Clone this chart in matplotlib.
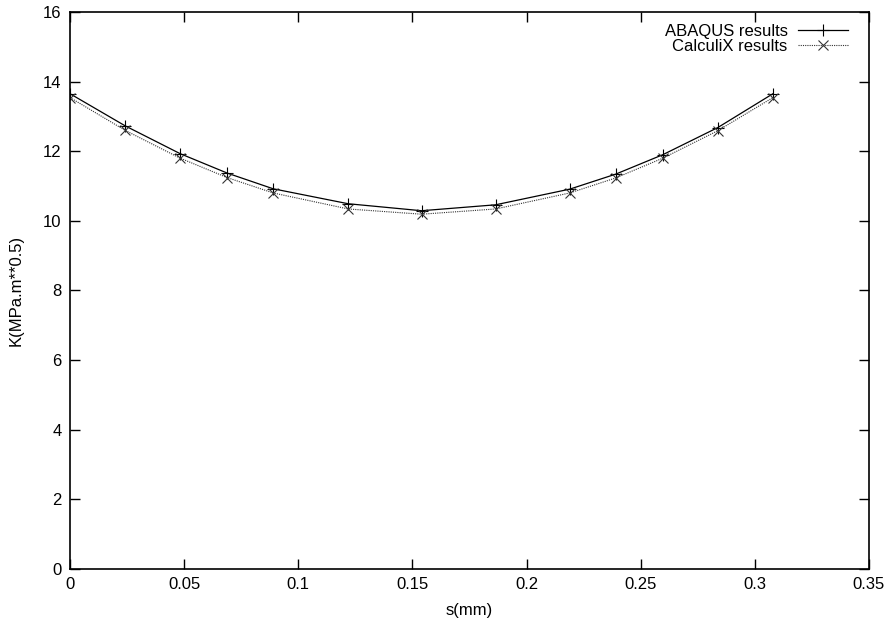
import matplotlib
matplotlib.use("Agg")
from matplotlib import pyplot as plt

# crack front position (mm)
s = [0.0, 0.0241, 0.0482, 0.0689, 0.089, 0.1219, 0.154,
     0.1864, 0.2189, 0.239, 0.2597, 0.2838, 0.3079]
k_abaqus = [13.65, 12.73, 11.93, 11.37, 10.92, 10.49, 10.29,
            10.46, 10.91, 11.34, 11.90, 12.68, 13.65]
k_calculix = [13.54, 12.60, 11.80, 11.24, 10.80, 10.34, 10.19,
              10.34, 10.80, 11.23, 11.80, 12.59, 13.54]

plt.rcParams['font.family'] = ['Liberation Sans', 'DejaVu Sans']

fig = plt.figure(figsize=(8.9, 6.28), dpi=100)
ax = fig.add_axes([0.0787, 0.094, 0.8977, 0.887])

ax.plot(s, k_abaqus, color="black", linewidth=0.9, marker='+',
        markersize=9, markeredgewidth=0.8, label="ABAQUS results")
ax.plot(s, k_calculix, color="#333333", linewidth=0.8, linestyle=(0, (1, 1)),
        marker='x', markersize=7, markeredgewidth=0.8, markeredgecolor="#333333",
        label="CalculiX results")

ax.set_xlim(0, 0.35)
ax.set_ylim(0, 16)
ax.set_xticks([0, 0.05, 0.1, 0.15, 0.2, 0.25, 0.3, 0.35])
ax.set_xticklabels(["0", "0.05", "0.1", "0.15", "0.2", "0.25", "0.3", "0.35"])
ax.set_yticks(range(0, 17, 2))
ax.tick_params(direction="in", top=True, right=True, length=7, width=1,
               labelsize=12, pad=6)
for sp in ax.spines.values():
    sp.set_linewidth(1.2)

ax.set_xlabel("s(mm)", fontsize=12, labelpad=8)
ax.set_ylabel("K(MPa.m**0.5)", fontsize=12, labelpad=14)

ax.legend(loc="upper right", frameon=False, markerfirst=False, fontsize=12,
          handlelength=3.0, handletextpad=0.6, labelspacing=0.0,
          borderaxespad=0.3, bbox_to_anchor=(0.988, 1.0))

fig.savefig("out.png", dpi=100)
